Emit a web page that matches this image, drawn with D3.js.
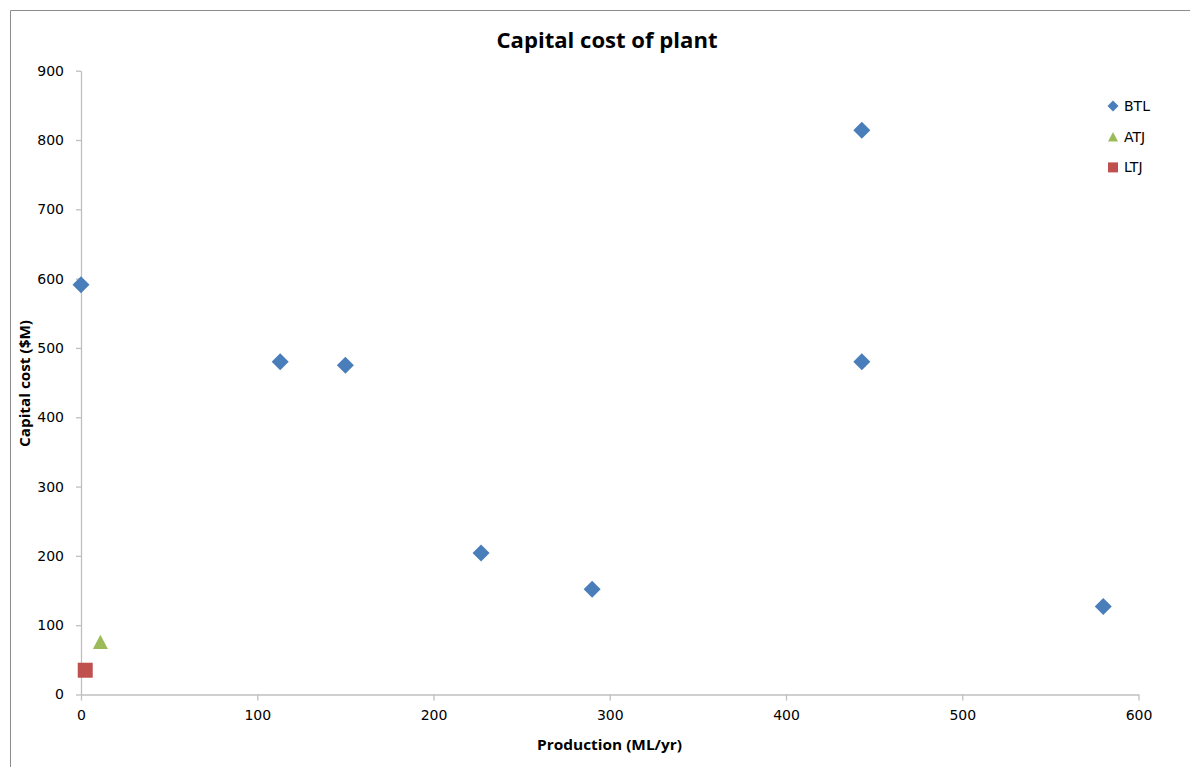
<!DOCTYPE html>
<html>
<head>
<meta charset="utf-8">
<script src="https://cdn.jsdelivr.net/npm/d3@7"></script>
<style>
  html, body { margin: 0; padding: 0; background: #fff; }
  svg { display: block; }
</style>
</head>
<body>
<script>
// Capital cost of plant vs production, by pathway
const btlProduction = [0, 113, 150, 227, 290, 443, 443, 580];
const btlCost       = [591, 480, 475, 204, 152, 814, 480, 127];
const atjProduction = [11];
const atjCost       = [76];
const ltjProduction = [2.4];
const ltjCost       = [35];

const xTicks = [0, 100, 200, 300, 400, 500, 600];
const yTicks = [0, 100, 200, 300, 400, 500, 600, 700, 800, 900];

const seriesNames  = ["BTL", "ATJ", "LTJ"];
const seriesColors = ["#4a7ebb", "#9bbb59", "#c0504d"];
const seriesShapes = ["diamond", "triangle", "square"];

const W = 1190, H = 767;
const plot = { left: 81, right: 1138.5, top: 70.7, bottom: 694.5 };

const svg = d3.select("body").append("svg")
  .attr("width", W).attr("height", H);

// chart frame (left and top edges visible)
svg.append("path")
  .attr("d", `M10.5,${H} V10.5 H${W}`)
  .attr("fill", "none").attr("stroke", "#8c8c8c").attr("stroke-width", 1);

const x = d3.scaleLinear().domain([0, 600]).range([plot.left, plot.right]);
const y = d3.scaleLinear().domain([0, 900]).range([plot.bottom, plot.top]);

const axisColor = "#bfbfbf";
const tickFont = "'DejaVu Sans', Verdana, sans-serif";

// x axis
const gx = svg.append("g")
  .attr("transform", `translate(0,${plot.bottom})`)
  .call(d3.axisBottom(x).tickValues(xTicks).tickSize(6).tickPadding(10).tickSizeOuter(0));
// y axis
const gy = svg.append("g")
  .attr("transform", `translate(${plot.left},0)`)
  .call(d3.axisLeft(y).tickValues(yTicks).tickSize(5).tickPadding(12).tickSizeOuter(0));

[gx, gy].forEach(g => {
  g.select(".domain").attr("stroke", axisColor).attr("stroke-width", 1.3);
  g.selectAll(".tick line").attr("stroke", axisColor).attr("stroke-width", 1.3);
  g.selectAll(".tick text")
    .attr("fill", "#000")
    .style("font-family", tickFont)
    .style("font-size", "14px");
});

// marker shapes, sized in pixels
function shapePath(shape, r) {
  if (shape === "diamond") {
    return `M0,${-r}L${r},0L0,${r}L${-r},0Z`;
  }
  if (shape === "triangle") {
    const h = r * 0.95;
    return `M0,${-h}L${r},${h}L${-r},${h}Z`;
  }
  return `M${-r},${-r}H${r}V${r}H${-r}Z`;
}

const series = [
  { xs: btlProduction, ys: btlCost, r: 8.5 },
  { xs: atjProduction, ys: atjCost, r: 7.5 },
  { xs: ltjProduction, ys: ltjCost, r: 7.5 }
];

series.forEach((s, i) => {
  const pts = s.xs.map((v, k) => [v, s.ys[k]]);
  svg.append("g").selectAll("path")
    .data(pts)
    .join("path")
    .attr("d", shapePath(seriesShapes[i], s.r))
    .attr("transform", d => `translate(${x(d[0])},${y(d[1])})`)
    .attr("fill", seriesColors[i]);
});

// legend
const legend = svg.append("g").attr("transform", "translate(1113,106)");
seriesNames.forEach((name, i) => {
  const g = legend.append("g").attr("transform", `translate(0,${i * 30.7})`);
  g.append("path")
    .attr("d", shapePath(seriesShapes[i], seriesShapes[i] === "diamond" ? 5.5 : 5))
    .attr("fill", seriesColors[i]);
  g.append("text")
    .attr("x", 11).attr("y", 5)
    .style("font-family", tickFont)
    .style("font-size", "14px")
    .attr("fill", "#000")
    .text(name);
});

const titleFont = "'Open Sans', 'Liberation Sans', sans-serif";

// chart title
svg.append("text")
  .attr("x", 607).attr("y", 48)
  .attr("text-anchor", "middle")
  .attr("textLength", 221).attr("lengthAdjust", "spacingAndGlyphs")
  .style("font-family", titleFont)
  .style("font-weight", "bold")
  .style("font-size", "21px")
  .text("Capital cost of plant");

// axis titles
svg.append("text")
  .attr("x", 609.5).attr("y", 750)
  .attr("text-anchor", "middle")
  .attr("textLength", 145).attr("lengthAdjust", "spacingAndGlyphs")
  .style("font-family", titleFont)
  .style("font-weight", "bold")
  .style("font-size", "15px")
  .text("Production (ML/yr)");

svg.append("text")
  .attr("transform", "translate(30,383.5) rotate(-90)")
  .attr("text-anchor", "middle")
  .attr("textLength", 127).attr("lengthAdjust", "spacingAndGlyphs")
  .style("font-family", titleFont)
  .style("font-weight", "bold")
  .style("font-size", "15px")
  .text("Capital cost ($M)");
</script>
</body>
</html>
